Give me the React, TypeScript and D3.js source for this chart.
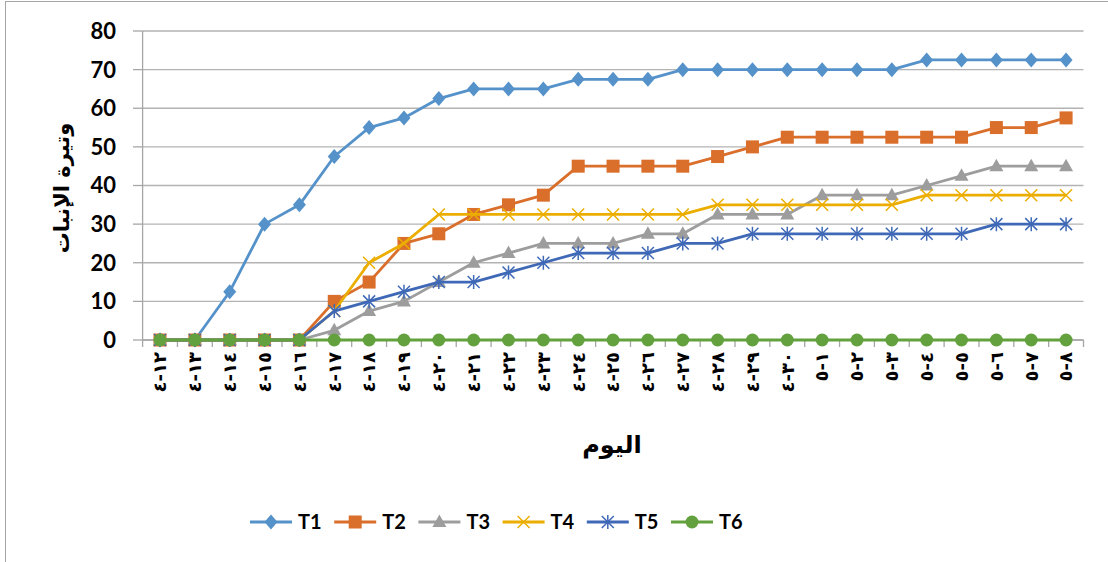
import React from "react";
import * as d3 from "d3";

const days: string[] = [
  "٤-١٢", "٤-١٣", "٤-١٤", "٤-١٥", "٤-١٦", "٤-١٧", "٤-١٨", "٤-١٩", "٤-٢٠",
  "٤-٢١", "٤-٢٢", "٤-٢٣", "٤-٢٤", "٤-٢٥", "٤-٢٦", "٤-٢٧", "٤-٢٨", "٤-٢٩",
  "٤-٣٠", "٥-١", "٥-٢", "٥-٣", "٥-٤", "٥-٥", "٥-٦", "٥-٧", "٥-٨",
];
const yTicks: number[] = [0, 10, 20, 30, 40, 50, 60, 70, 80];

const T1: number[] = [0, 0, 12.5, 30, 35, 47.5, 55, 57.5, 62.5, 65, 65, 65, 67.5, 67.5, 67.5, 70, 70, 70, 70, 70, 70, 70, 72.5, 72.5, 72.5, 72.5, 72.5];
const T2: number[] = [0, 0, 0, 0, 0, 10, 15, 25, 27.5, 32.5, 35, 37.5, 45, 45, 45, 45, 47.5, 50, 52.5, 52.5, 52.5, 52.5, 52.5, 52.5, 55, 55, 57.5];
const T3: number[] = [0, 0, 0, 0, 0, 2.5, 7.5, 10, 15, 20, 22.5, 25, 25, 25, 27.5, 27.5, 32.5, 32.5, 32.5, 37.5, 37.5, 37.5, 40, 42.5, 45, 45, 45];
const T4: number[] = [0, 0, 0, 0, 0, 7.5, 20, 25, 32.5, 32.5, 32.5, 32.5, 32.5, 32.5, 32.5, 32.5, 35, 35, 35, 35, 35, 35, 37.5, 37.5, 37.5, 37.5, 37.5];
const T5: number[] = [0, 0, 0, 0, 0, 7.5, 10, 12.5, 15, 15, 17.5, 20, 22.5, 22.5, 22.5, 25, 25, 27.5, 27.5, 27.5, 27.5, 27.5, 27.5, 27.5, 30, 30, 30];
const T6: number[] = [0, 0, 0, 0, 0, 0, 0, 0, 0, 0, 0, 0, 0, 0, 0, 0, 0, 0, 0, 0, 0, 0, 0, 0, 0, 0, 0];

const seriesNames: string[] = ["T1", "T2", "T3", "T4", "T5", "T6"];
const seriesValues: number[][] = [T1, T2, T3, T4, T5, T6];
const seriesColors: string[] = ["#5592CA", "#DA6E2B", "#9D9D9D", "#EBAE00", "#3F69B7", "#62A13E"];
const seriesMarkers: string[] = ["diamond", "square", "triangle", "x", "star", "circle"];

const LATIN = "Lato, 'DejaVu Sans', sans-serif";
const ARABIC = "'DejaVu Sans', sans-serif";

function Marker({ kind, x, y, color }: { kind: string; x: number; y: number; color: string }) {
  switch (kind) {
    case "diamond":
      return <path d={`M${x},${y - 7.5}L${x + 6.5},${y}L${x},${y + 7.5}L${x - 6.5},${y}Z`} fill={color} />;
    case "square":
      return <rect x={x - 6.5} y={y - 6.5} width={13} height={13} fill={color} />;
    case "triangle":
      return <path d={`M${x},${y - 7.5}L${x + 7},${y + 5}L${x - 7},${y + 5}Z`} fill={color} />;
    case "x":
      return (
        <path d={`M${x - 6},${y - 6}L${x + 6},${y + 6}M${x - 6},${y + 6}L${x + 6},${y - 6}`} stroke={color} strokeWidth={1.5} fill="none" />
      );
    case "star":
      return (
        <path
          d={`M${x - 6},${y - 6}L${x + 6},${y + 6}M${x - 6},${y + 6}L${x + 6},${y - 6}M${x},${y - 7}L${x},${y + 7}`}
          stroke={color}
          strokeWidth={1.5}
          fill="none"
        />
      );
    default:
      return <circle cx={x} cy={y} r={6.5} fill={color} />;
  }
}

export default function App() {
  const W = 1108;
  const H = 562;
  const x = d3.scaleBand<string>().domain(days).range([142.6, 1083.5]).paddingInner(0).paddingOuter(0);
  const bw = x.bandwidth();
  const cx = (d: string) => (x(d) as number) + bw / 2;
  const y = d3.scaleLinear().domain([0, 80]).range([340, 31]);
  const line = d3
    .line<number>()
    .x((_, i) => cx(days[i]))
    .y((v) => y(v));

  const boundaries = days.map((d) => x(d) as number).concat([x.range()[1]]);

  const legendX0 = 250;
  const legendStep = 84.2;
  const legendY = 522;

  return (
    <svg width={W} height={H} style={{ position: "absolute", left: 0, top: 0, background: "#fff" }}>
      <rect x={5.5} y={1.5} width={W + 20} height={H + 20} fill="#fff" stroke="#a6a6a6" strokeWidth={1} />

      {/* gridlines */}
      {yTicks.map((t) => (
        <line key={"g" + t} x1={142.6} x2={1083.5} y1={y(t)} y2={y(t)} stroke="#b3b3b3" strokeWidth={1.3} />
      ))}

      {/* y axis */}
      <line x1={142.6} x2={142.6} y1={y(80)} y2={y(0)} stroke="#a6a6a6" strokeWidth={1.3} />
      {yTicks.map((t) => (
        <g key={"yt" + t}>
          <line x1={133} x2={142.6} y1={y(t)} y2={y(t)} stroke="#a6a6a6" strokeWidth={1.3} />
          <text x={116} y={y(t)} dy="0.36em" textAnchor="end" fontFamily={LATIN} fontWeight={700} fontSize={22} fill="#000">
            {t}
          </text>
        </g>
      ))}

      {/* x axis */}
      <line x1={142.6} x2={1083.5} y1={y(0)} y2={y(0)} stroke="#a6a6a6" strokeWidth={1.3} />
      {boundaries.map((b, i) => (
        <line key={"xt" + i} x1={b} x2={b} y1={y(0)} y2={y(0) + 7} stroke="#a6a6a6" strokeWidth={1.3} />
      ))}
      {days.map((d) => (
        <text
          key={"xl" + d}
          transform={`translate(${cx(d)},${352}) rotate(-90)`}
          dy="0.35em"
          textAnchor="end"
          fontFamily={ARABIC}
          fontWeight={700}
          fontSize={18}
          fill="#000"
          style={{ unicodeBidi: "bidi-override", direction: "ltr", letterSpacing: "4px" } as any}
        >
          {d}
        </text>
      ))}

      {/* series */}
      {seriesValues.map((vals, si) => (
        <g key={"s" + si}>
          <path d={line(vals) as string} fill="none" stroke={seriesColors[si]} strokeWidth={2.8} strokeLinejoin="round" />
          {vals.map((v, i) => (
            <Marker key={i} kind={seriesMarkers[si]} x={cx(days[i])} y={y(v)} color={seriesColors[si]} />
          ))}
        </g>
      ))}

      {/* axis titles */}
      <text
        transform={`translate(62,188) rotate(-90)`}
        dy="0.35em"
        textAnchor="middle"
        fontFamily={ARABIC}
        fontWeight={700}
        fontSize={21}
        fill="#000"
        direction="rtl"
      >
        وتيرة الإنبات
      </text>
      <text x={612} y={453} textAnchor="middle" fontFamily={ARABIC} fontWeight={700} fontSize={24} fill="#000" direction="rtl">
        اليوم
      </text>

      {/* legend */}
      {seriesNames.map((n, i) => {
        const lx = legendX0 + i * legendStep;
        return (
          <g key={"lg" + n}>
            <line x1={lx} x2={lx + 42} y1={legendY} y2={legendY} stroke={seriesColors[i]} strokeWidth={2.8} />
            <Marker kind={seriesMarkers[i]} x={lx + 21} y={legendY} color={seriesColors[i]} />
            <text x={lx + 48} y={legendY} dy="0.36em" fontFamily={LATIN} fontWeight={700} fontSize={20} fill="#000">
              {n}
            </text>
          </g>
        );
      })}
    </svg>
  );
}
